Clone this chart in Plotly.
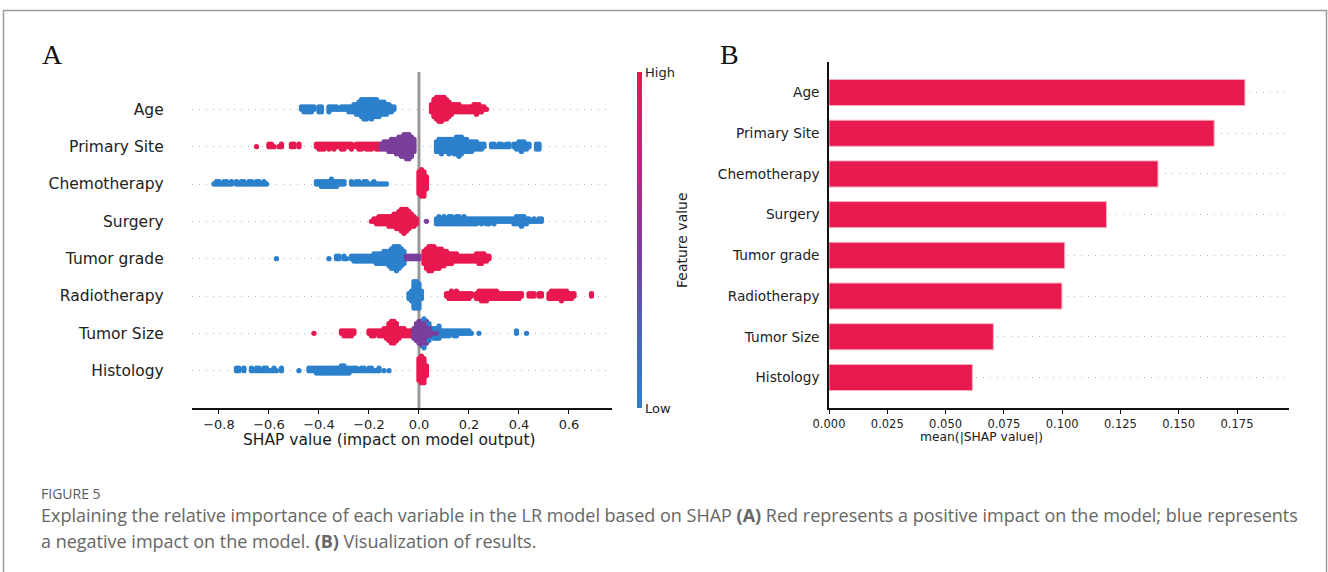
import plotly.graph_objects as go

W, H = 1328, 572

# ---------------- data ----------------
FEATURES = ["Age", "Primary Site", "Chemotherapy", "Surgery",
            "Tumor grade", "Radiotherapy", "Tumor Size", "Histology"]

MEAN_ABS_SHAP = [0.1784, 0.1652, 0.1411, 0.1190, 0.1011, 0.0999, 0.0705, 0.0615]

X_TICKS_A = [-0.8, -0.6, -0.4, -0.2, 0.0, 0.2, 0.4, 0.6]
X_TICKTEXT_A = ["\u22120.8", "\u22120.6", "\u22120.4", "\u22120.2", "0.0", "0.2", "0.4", "0.6"]
X_TICKS_B = [0.0, 0.025, 0.05, 0.075, 0.1, 0.125, 0.15, 0.175]

# SHAP values (x) and number of samples at that value (n); LOW / MID / HIGH feature value
X_AGE_LOW = [-0.47, -0.46, -0.45, -0.44, -0.43, -0.42, -0.40, -0.39, -0.36, -0.35,
             -0.34, -0.33, -0.32, -0.31, -0.30, -0.29, -0.28, -0.27, -0.26, -0.25,
             -0.24, -0.23, -0.22, -0.21, -0.20, -0.19, -0.18, -0.17, -0.16, -0.15,
             -0.14, -0.13, -0.12, -0.11, -0.10]
N_AGE_LOW = [2, 3, 3, 3, 3, 2, 3, 3, 3, 2,
             2, 2, 1, 2, 2, 2, 3, 3, 4, 5,
             6, 8, 9, 9, 8, 9, 8, 8, 7, 6,
             6, 5, 4, 3, 2]
X_AGE_HIGH = [0.05, 0.06, 0.07, 0.08, 0.09, 0.10, 0.11, 0.12, 0.13, 0.14, 0.15, 0.16,
              0.17, 0.18, 0.19, 0.20, 0.21, 0.22, 0.23, 0.24, 0.25, 0.26, 0.27]
N_AGE_HIGH = [4, 8, 10, 11, 11, 10, 9, 7, 5, 4, 4, 4,
              3, 3, 3, 3, 3, 4, 5, 4, 3, 2, 1]

X_SITE_HIGH = [-0.65, -0.60, -0.59, -0.58, -0.56, -0.55, -0.51, -0.50, -0.48,
               -0.41, -0.40, -0.39, -0.38, -0.37, -0.36, -0.35, -0.34, -0.33, -0.32,
               -0.31, -0.30, -0.29, -0.28, -0.27, -0.25, -0.24, -0.23, -0.22, -0.21,
               -0.20, -0.19, -0.18, -0.17, -0.16]
N_SITE_HIGH = [1, 2, 2, 1, 1, 2, 2, 2, 2,
               2, 3, 3, 3, 2, 3, 2, 3, 2, 2,
               3, 3, 2, 2, 3, 2, 3, 3, 2, 3,
               3, 3, 2, 3, 3]
X_SITE_MID = [-0.15, -0.14, -0.13, -0.12, -0.11, -0.10, -0.09, -0.08, -0.07, -0.06,
              -0.05, -0.04, -0.03, -0.02]
N_SITE_MID = [3, 4, 4, 5, 6, 6, 7, 8, 9, 10, 11, 11, 9, 6]
X_SITE_LOW = [0.07, 0.08, 0.09, 0.10, 0.11, 0.12, 0.13, 0.14, 0.15, 0.16, 0.17, 0.18,
              0.19, 0.20, 0.21, 0.22, 0.23, 0.24, 0.25, 0.26, 0.29, 0.30, 0.31, 0.32,
              0.33, 0.34, 0.35, 0.36, 0.38, 0.39, 0.40, 0.41, 0.42, 0.43, 0.44, 0.47, 0.48]
N_SITE_LOW = [5, 6, 7, 6, 6, 7, 6, 7, 8, 9, 8, 6,
              6, 5, 5, 4, 4, 3, 3, 2, 2, 2, 1, 2,
              2, 1, 2, 2, 2, 3, 4, 5, 4, 3, 2, 3, 3]

X_CHEMO_LOW = [-0.82, -0.81, -0.80, -0.79, -0.78, -0.77, -0.76, -0.75, -0.73, -0.72,
               -0.71, -0.70, -0.69, -0.68, -0.67, -0.66, -0.65, -0.64, -0.63, -0.62,
               -0.61, -0.41, -0.40, -0.39, -0.38, -0.37, -0.36, -0.35, -0.34, -0.33,
               -0.32, -0.31, -0.30, -0.27, -0.26, -0.25, -0.24, -0.23, -0.22, -0.21,
               -0.20, -0.19, -0.18, -0.17, -0.16, -0.15, -0.14, -0.13]
N_CHEMO_LOW = [1, 2, 2, 1, 2, 2, 1, 2, 2, 1,
               2, 2, 1, 2, 2, 1, 2, 2, 1, 2,
               1, 2, 2, 3, 3, 3, 3, 4, 3, 3,
               2, 2, 2, 2, 1, 2, 2, 1, 2, 2,
               1, 1, 2, 1, 1, 1, 1, 1]
X_CHEMO_HIGH = [0.00, 0.01, 0.02, 0.03]
N_CHEMO_HIGH = [10, 12, 11, 6]

X_SURG_HIGH = [-0.19, -0.18, -0.17, -0.16, -0.15, -0.14, -0.13, -0.12, -0.11, -0.10,
               -0.09, -0.08, -0.07, -0.06, -0.05, -0.04, -0.03, -0.02, -0.01]
N_SURG_HIGH = [1, 2, 3, 4, 4, 4, 4, 5, 5, 6, 7, 8, 10, 11, 10, 8, 6, 5, 3]
X_SURG_MID = [0.03]
N_SURG_MID = [1]
X_SURG_LOW = [0.07, 0.08, 0.09, 0.10, 0.11, 0.12, 0.13, 0.14, 0.15, 0.16, 0.17, 0.18,
              0.19, 0.20, 0.21, 0.22, 0.23, 0.24, 0.25, 0.26, 0.27, 0.28, 0.29, 0.30,
              0.31, 0.32, 0.33, 0.34, 0.35, 0.36, 0.37, 0.38, 0.39, 0.40, 0.41, 0.42,
              0.43, 0.44, 0.45, 0.46, 0.47, 0.48, 0.49]
N_SURG_LOW = [3, 4, 3, 4, 3, 4, 4, 3, 4, 4, 3, 4,
              3, 3, 3, 3, 3, 2, 3, 2, 3, 3, 2, 3,
              2, 2, 2, 2, 2, 2, 2, 3, 4, 4, 5, 4,
              3, 2, 1, 2, 1, 2, 2]

X_GRADE_LOW = [-0.57, -0.36, -0.33, -0.32, -0.30, -0.29, -0.27, -0.26, -0.25, -0.24,
               -0.23, -0.22, -0.21, -0.20, -0.19, -0.18, -0.17, -0.16, -0.15, -0.14,
               -0.13, -0.12, -0.11, -0.10, -0.09, -0.08, -0.07, -0.06]
N_GRADE_LOW = [1, 1, 2, 2, 2, 1, 2, 3, 3, 3,
               3, 3, 3, 3, 3, 4, 5, 5, 5, 6,
               6, 7, 9, 10, 11, 10, 8, 6]
X_GRADE_MID = [-0.05, -0.04, -0.03, -0.02, -0.01, 0.00]
N_GRADE_MID = [2, 2, 2, 2, 2, 2]
X_GRADE_HIGH = [0.02, 0.03, 0.04, 0.05, 0.06, 0.07, 0.08, 0.09, 0.10, 0.11, 0.12, 0.13,
                0.14, 0.15, 0.16, 0.17, 0.18, 0.19, 0.20, 0.21, 0.22, 0.23, 0.24, 0.25,
                0.26, 0.27, 0.28]
N_GRADE_HIGH = [6, 9, 11, 11, 10, 9, 9, 8, 7, 6, 5, 5,
                4, 4, 3, 3, 3, 3, 3, 3, 3, 4, 5, 5,
                4, 3, 2]

X_RADIO_LOW = [-0.04, -0.03, -0.02, -0.01, 0.00, 0.01]
N_RADIO_LOW = [3, 5, 12, 12, 11, 4]
X_RADIO_HIGH = [0.11, 0.12, 0.13, 0.14, 0.15, 0.16, 0.17, 0.18, 0.19, 0.20, 0.21,
                0.23, 0.24, 0.25, 0.26, 0.27, 0.28, 0.29, 0.30, 0.31, 0.32, 0.33,
                0.34, 0.35, 0.36, 0.37, 0.38, 0.39, 0.40, 0.41, 0.44, 0.45, 0.46,
                0.48, 0.49, 0.52, 0.53, 0.54, 0.55, 0.56, 0.57, 0.58, 0.59, 0.60,
                0.61, 0.62, 0.69]
N_RADIO_HIGH = [2, 3, 4, 3, 4, 3, 3, 3, 3, 3, 2,
                3, 4, 5, 5, 5, 4, 4, 4, 4, 3, 3,
                3, 3, 3, 3, 3, 3, 3, 2, 2, 2, 2,
                2, 2, 3, 4, 4, 4, 4, 5, 4, 4, 3,
                3, 2, 2]

X_SIZE_HIGH = [-0.42, -0.31, -0.30, -0.29, -0.28, -0.27, -0.26, -0.20, -0.19, -0.18,
               -0.17, -0.16, -0.15, -0.14, -0.13, -0.12, -0.11, -0.10, -0.09, -0.08,
               -0.07, -0.06, -0.05, -0.04, -0.03]
N_SIZE_HIGH = [1, 2, 3, 3, 3, 3, 2, 2, 3, 3,
               2, 3, 3, 4, 5, 8, 10, 10, 8, 5,
               4, 4, 3, 3, 3]
X_SIZE_MID = [-0.02, -0.01, 0.00, 0.01, 0.02, 0.03, 0.04, 0.05, 0.06, 0.07, 0.08]
N_SIZE_MID = [5, 8, 10, 11, 11, 10, 6, 4, 3, 3, 3]
X_SIZE_LOW = [0.02, 0.04, 0.06, 0.07, 0.08, 0.09, 0.10, 0.11, 0.12, 0.13, 0.14, 0.15,
              0.16, 0.17, 0.18, 0.19, 0.20, 0.21, 0.24, 0.39, 0.43]
N_SIZE_LOW = [2, 2, 2, 2, 3, 3, 3, 3, 3, 2, 3, 3,
              2, 2, 2, 2, 2, 1, 1, 2, 1]

X_HIST_LOW = [-0.73, -0.72, -0.70, -0.67, -0.66, -0.65, -0.64, -0.63, -0.62, -0.61,
              -0.60, -0.59, -0.58, -0.57, -0.55, -0.48, -0.44, -0.43, -0.42, -0.41,
              -0.40, -0.39, -0.38, -0.37, -0.36, -0.35, -0.34, -0.33, -0.32, -0.31,
              -0.30, -0.29, -0.28, -0.27, -0.26, -0.25, -0.24, -0.23, -0.22, -0.21,
              -0.20, -0.19, -0.18, -0.17, -0.16, -0.14, -0.12]
N_HIST_LOW = [2, 2, 2, 2, 1, 2, 2, 1, 2, 2,
              1, 1, 2, 1, 2, 1, 2, 2, 2, 3,
              3, 3, 3, 3, 3, 3, 3, 3, 3, 4,
              4, 3, 3, 2, 2, 2, 1, 2, 2, 1,
              2, 2, 1, 1, 2, 1, 1]
X_HIST_HIGH = [0.00, 0.01, 0.02, 0.03]
N_HIST_HIGH = [10, 12, 11, 5]

LOW, MID, HIGH = 0.0, 0.45, 1.0

ROWS = {
    "Age": [(X_AGE_LOW, N_AGE_LOW, LOW), (X_AGE_HIGH, N_AGE_HIGH, HIGH)],
    "Primary Site": [(X_SITE_HIGH, N_SITE_HIGH, HIGH), (X_SITE_MID, N_SITE_MID, MID),
                     (X_SITE_LOW, N_SITE_LOW, LOW)],
    "Chemotherapy": [(X_CHEMO_LOW, N_CHEMO_LOW, LOW), (X_CHEMO_HIGH, N_CHEMO_HIGH, HIGH)],
    "Surgery": [(X_SURG_HIGH, N_SURG_HIGH, HIGH), (X_SURG_MID, N_SURG_MID, MID),
                (X_SURG_LOW, N_SURG_LOW, LOW)],
    "Tumor grade": [(X_GRADE_LOW, N_GRADE_LOW, LOW), (X_GRADE_MID, N_GRADE_MID, MID),
                    (X_GRADE_HIGH, N_GRADE_HIGH, HIGH)],
    "Radiotherapy": [(X_RADIO_LOW, N_RADIO_LOW, LOW), (X_RADIO_HIGH, N_RADIO_HIGH, HIGH)],
    "Tumor Size": [(X_SIZE_HIGH, N_SIZE_HIGH, HIGH), (X_SIZE_MID, N_SIZE_MID, MID),
                   (X_SIZE_LOW, N_SIZE_LOW, LOW)],
    "Histology": [(X_HIST_LOW, N_HIST_LOW, LOW), (X_HIST_HIGH, N_HIST_HIGH, HIGH)],
}

# ---------------- helpers ----------------
def px_x(p):
    return p / W


def px_y(p):
    return 1 - p / H


STEP = 0.0643  # vertical layer offset (row units) for the swarm


def swarm(groups, row):
    xs, ys, cs = [], [], []
    stack = {}
    for gx, gn, c in groups:
        for x, n in zip(gx, gn):
            key = round(x, 4)
            for _ in range(n):
                k = stack.get(key, 0)
                layer = (k + 1) // 2
                sign = 1 if k % 2 == 1 else -1
                xs.append(x)
                ys.append(row + sign * layer * STEP)
                cs.append(c)
                stack[key] = k + 1
    return xs, ys, cs


COLORSCALE = [[0.0, "#2C80CC"], [0.25, "#4F62B2"], [0.45, "#7A3F9C"],
              [0.75, "#BC2580"], [1.0, "#E8194F"]]
FONT = "DejaVu Sans"
BAR_RED = "#E8194F"

fig = go.Figure()

n_feat = len(FEATURES)
for i, feat in enumerate(FEATURES):
    row = n_feat - 1 - i
    xs, ys, cs = swarm(ROWS[feat], row)
    fig.add_trace(go.Scatter(
        x=xs, y=ys, mode="markers", xaxis="x", yaxis="y",
        marker=dict(size=5.3, color=cs, coloraxis="coloraxis", line=dict(width=0)),
        showlegend=False, hoverinfo="skip"))

bar_pos = [n_feat - 1 - i for i in range(n_feat)]
fig.add_trace(go.Bar(
    x=MEAN_ABS_SHAP, y=bar_pos, orientation="h", xaxis="x2", yaxis="y2",
    width=0.64, marker=dict(color=BAR_RED, line=dict(color="#F6AFC0", width=1)),
    showlegend=False, hoverinfo="skip"))

grid_dash = "1px,6px"

fig.update_layout(
    width=W, height=H, margin=dict(l=0, r=0, t=0, b=0, autoexpand=False),
    paper_bgcolor="white", plot_bgcolor="rgba(0,0,0,0)",
    font=dict(family=FONT, color="#1a1a1a"),
    xaxis=dict(domain=[px_x(191.7), px_x(612)], range=[-0.909, 0.772],
               tickvals=X_TICKS_A, ticktext=X_TICKTEXT_A,
               tickfont=dict(size=13, color="#222"),
               showline=True, linecolor="#111", linewidth=1.5,
               ticks="outside", ticklen=4, tickcolor="#111", tickwidth=1,
               showgrid=False, zeroline=False, anchor="y", automargin=False),
    yaxis=dict(domain=[px_y(408), px_y(72)], range=[-1, 8],
               tickvals=list(range(n_feat)), ticktext=FEATURES[::-1],
               tickfont=dict(size=15.5, color="#222"),
               showline=False, ticks="", ticklabelstandoff=27,
               showgrid=True, gridcolor="#bdbdbd", gridwidth=1, griddash=grid_dash,
               zeroline=False, anchor="x", automargin=False),
    xaxis2=dict(domain=[px_x(829), px_x(1289)], range=[0, 0.1973],
                tickvals=X_TICKS_B, tickformat=".3f",
                tickfont=dict(size=11.5, color="#222"),
                showline=True, linecolor="#111", linewidth=1.5,
                ticks="outside", ticklen=4, tickcolor="#111", tickwidth=1,
                showgrid=False, zeroline=False, anchor="y2", automargin=False),
    yaxis2=dict(domain=[px_y(408), px_y(62)], range=[-0.75, 7.75],
                tickvals=bar_pos, ticktext=FEATURES,
                tickfont=dict(size=13.7, color="#222"),
                showline=True, linecolor="#111", linewidth=1.5,
                ticks="", ticklabelstandoff=5,
                showgrid=True, gridcolor="#bdbdbd", gridwidth=1, griddash=grid_dash,
                zeroline=False, anchor="x2", automargin=False),
    coloraxis=dict(
        cmin=0, cmax=1, colorscale=COLORSCALE,
        colorbar=dict(x=px_x(637), xanchor="left", xpad=0, ypad=0,
                      y=px_y(240), yanchor="middle",
                      len=336 / H, lenmode="fraction",
                      thickness=5, thicknessmode="pixels",
                      outlinewidth=0, ticks="",
                      tickvals=[0, 1], ticktext=["Low", "High"],
                      tickfont=dict(size=13, family=FONT, color="#222"))),
)

# zero line in panel A
fig.add_shape(type="line", xref="x", yref="y domain", x0=0, x1=0, y0=0, y1=1,
              line=dict(color="#999999", width=3), layer="below")

# outer frame
fig.add_shape(type="rect", xref="paper", yref="paper",
              x0=px_x(3.5), x1=px_x(1326.5), y0=-0.05, y1=px_y(10.5),
              line=dict(color="#9a9a9a", width=1.5), layer="below")

ann = []
ann.append(dict(text="SHAP value (impact on model output)", x=px_x(389), y=px_y(440),
                xref="paper", yref="paper", showarrow=False, xanchor="center",
                yanchor="middle", font=dict(size=15.5, family=FONT, color="#1a1a1a")))
ann.append(dict(text="mean(|SHAP value|)", x=px_x(981), y=px_y(437),
                xref="paper", yref="paper", showarrow=False, xanchor="center",
                yanchor="middle", font=dict(size=12.3, family=FONT, color="#1a1a1a")))
ann.append(dict(text="Feature value", x=px_x(682), y=px_y(240), textangle=-90,
                xref="paper", yref="paper", showarrow=False, xanchor="center",
                yanchor="middle", font=dict(size=14, family=FONT, color="#1a1a1a")))
ann.append(dict(text="A", x=px_x(40), y=px_y(55), xref="paper", yref="paper",
                showarrow=False, xanchor="left", yanchor="middle",
                font=dict(size=28, family="Liberation Serif", color="#111")))
ann.append(dict(text="B", x=px_x(718), y=px_y(55), xref="paper", yref="paper",
                showarrow=False, xanchor="left", yanchor="middle",
                font=dict(size=28, family="Liberation Serif", color="#111")))
CAP_FONT = "Open Sans"
ann.append(dict(text="FIGURE 5", x=px_x(39), y=px_y(493), xref="paper", yref="paper",
                showarrow=False, xanchor="left", yanchor="middle",
                font=dict(size=14, family=CAP_FONT, color="#5a5a5a")))
ann.append(dict(text="Explaining the relative importance of each variable in the LR model based on SHAP "
                     "<b>(A)</b> Red represents a positive impact on the model; blue represents",
                x=px_x(39), y=px_y(515), xref="paper", yref="paper",
                showarrow=False, xanchor="left", yanchor="middle",
                font=dict(size=18, family=CAP_FONT, color="#666666")))
ann.append(dict(text="a negative impact on the model. <b>(B)</b> Visualization of results.",
                x=px_x(39), y=px_y(541), xref="paper", yref="paper",
                showarrow=False, xanchor="left", yanchor="middle",
                font=dict(size=18, family=CAP_FONT, color="#666666")))
fig.update_layout(annotations=ann)

fig.write_html("out.html")
